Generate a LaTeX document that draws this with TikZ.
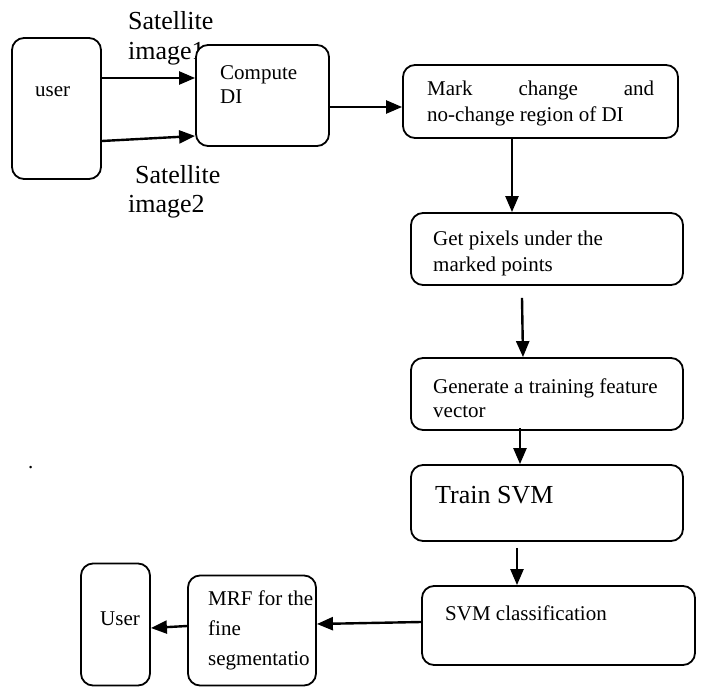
\documentclass[tikz,border=0pt]{standalone}
\usepackage{fontspec}
\setmainfont{Liberation Serif}
\usetikzlibrary{arrows.meta}
\begin{document}
\begin{tikzpicture}[x=1pt,y=-1pt,
  box/.style={draw,fill=white,line width=1.8pt,rounded corners=12pt,inner sep=0pt},
  txt/.style={anchor=base west,inner sep=0pt,align=left,font=\fontsize{21}{27}\selectfont},
  big/.style={anchor=base west,inner sep=0pt,align=left,font=\fontsize{26}{29}\selectfont},
  arr/.style={line width=2.4pt,-{Triangle[length=16pt,width=13pt]}}]
\useasboundingbox (0,0) rectangle (702,687);
% label drawn first so that the Compute box covers part of its "1"
\node[big] (sat1) at (128,60) {Satellite\\[1pt]image1};
% boxes
\node[box,minimum width=89pt,minimum height=141pt] (user) at (56.5,108.5) {};
\node[box,minimum width=133pt,minimum height=101pt] (compute) at (262.5,95.5) {};
\node[box,minimum width=275pt,minimum height=73pt] (mark) at (540.5,101.5) {};
\node[box,minimum width=272pt,minimum height=72pt] (getpix) at (547,249) {};
\node[box,minimum width=272pt,minimum height=72pt] (generate) at (547,394) {};
\node[box,minimum width=272pt,minimum height=76pt] (train) at (547,503) {};
\node[box,minimum width=273pt,minimum height=79pt] (svm) at (558.5,625.5) {};
\node[box,minimum width=128pt,minimum height=110pt] (mrf) at (252,630.5) {};
\node[box,minimum width=69pt,minimum height=122pt] (user2) at (115.5,624.5) {};
% texts (multi-line nodes are anchored at the baseline of their last line)
\node[txt] (tuser) at (35,97) {user};
\node[txt] (tcompute) at (220,104) {Compute\\[-3pt]DI};
\node[big] (sat2) at (128,213) {\hspace*{7pt}Satellite\\image2};
\node[txt] (tmark) at (427,122) {\makebox[227pt][s]{Mark change and}\\[-1pt]no-change region of DI};
\node[txt] (tget) at (433,272) {Get pixels under the\\[-1pt]marked points};
\node[txt] (tgen) at (433,417) {Generate a training feature\\[-3pt]vector};
\node[big] (ttrain) at (435,503) {Train SVM};
\node[txt] (tsvm) at (445,620) {SVM classification};
\node[txt] (tmrf) at (208,665) {MRF for the\\[3pt]fine\\[3pt]segmentatio};
\node[txt] (tuser2) at (100,625) {User};
\node[txt] (dot) at (28,468) {.};
% connectors
\draw[arr] ([yshift=30.5pt]user.east) -- ([yshift=17.5pt]compute.west);
\draw[arr] ([yshift=-32.5pt]user.east) -- ([yshift=-40.5pt]compute.west);
\draw[arr] ([yshift=-11.5pt]compute.east) -- ([yshift=-5.5pt]mark.west);
\draw[arr] ([xshift=-28.5pt]mark.south) -- ([xshift=-35pt]getpix.north);
\draw[arr] ([xshift=-25pt,yshift=-12pt]getpix.south) -- ([xshift=-24pt]generate.north);
\draw[arr] ([xshift=-27pt,yshift=3pt]generate.south) -- ([xshift=-27pt]train.north);
\draw[arr] ([xshift=-30pt,yshift=-6pt]train.south) -- ([xshift=-41.5pt]svm.north);
\draw[arr] ([yshift=3.5pt]svm.west) -- ([yshift=6.5pt]mrf.east);
\draw[arr] ([yshift=4.5pt]mrf.west) -- ([yshift=-3.5pt]user2.east);
\end{tikzpicture}
\end{document}
